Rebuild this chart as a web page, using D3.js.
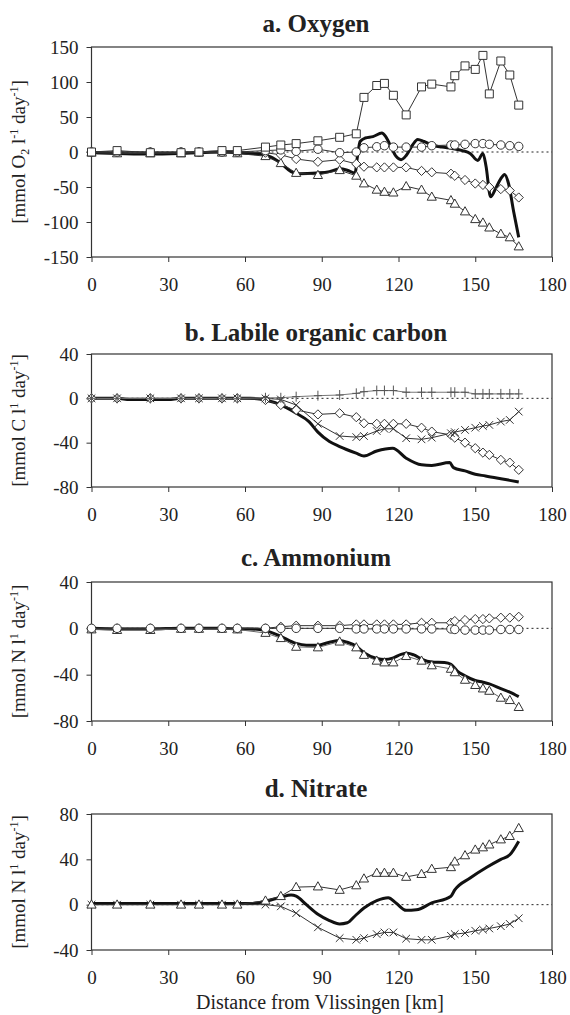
<!DOCTYPE html>
<html>
<head>
<meta charset="utf-8">
<script src="https://cdn.jsdelivr.net/npm/d3@7"></script>
<style>
  body { margin: 0; background: #fff; }
  svg, text { font-family: "Liberation Serif", "Times New Roman", serif; }
  text { fill: #222; }
</style>
</head>
<body>
<div id="chart"></div>
<script>
// stations along the estuary (km from Vlissingen)
var km = [0, 10, 23, 35, 42, 51, 57, 68, 74, 80, 88.5, 97, 103.5, 106.5, 111.5, 114.5, 118, 123, 129, 133, 140.5, 142, 146, 150, 153, 155.5, 160, 163.5, 167];

var xTicks = [0, 30, 60, 90, 120, 150, 180];

// a. oxygen
var oxSquare   = [0, 2, -1, -1, 0, 2, 2, 7, 10, 12, 16, 21, 26, 78, 95, 98, 81, 53, 93, 97, 93, 109, 123, 118, 138, 83, 130, 110, 67];
var oxCircle   = [0, 0, 0, 0, 0, 0, 0, 2, 3, 1, 4, -1, 0, 6, 7.5, 9, 7, 7, 7, 9, 10, 10, 11, 12, 12, 11, 10, 9, 8];
var oxDiamond  = [0, 0, 0, 0, 0, 0, 0, -1, -4, -10, -14, -11, -17, -21, -22, -22, -22, -22, -27, -29, -31, -34, -40, -45, -47, -50, -53, -55, -65];
var oxTriangle = [-1, -2, -2, -2, -1, -1, -2, -6, -16, -30, -33, -26, -34, -45, -54, -57, -58, -49, -54, -64, -69, -74, -85, -96, -101, -108, -117, -122, -135];
var oxLineKm = [0, 10, 23, 35, 42, 51, 57, 62, 66, 70, 74, 78, 81, 88, 93, 97, 100, 103, 104, 105, 107, 110, 113.5, 115, 117, 119, 121, 123, 125.5, 127.5, 130, 133, 137, 141, 145, 148, 151, 153, 154.2, 156, 158, 160, 161.5, 163, 165, 167];
var oxLine   = [-1, -2, -3, -2, -1, 0, -1, -2, -3, -7, -16, -28, -31, -30, -28, -24, -26, -30, -5, 15, 20, 22, 27, 22, 8, -6, -11, -5, 10, 18, 15, 10, 7, 5, 2, -2, -12, -2, -20, -64, -52, -38, -32, -45, -85, -122];
var oxTicks = [-150, -100, -50, 0, 50, 100, 150];

// b. labile organic carbon
var cPlus    = [0, 0, 0, 0, 0, 0, 0, 0.5, 0.5, 1.5, 2.4, 3, 4.5, 6, 7, 7, 7, 5.5, 5.5, 5.5, 5.5, 5.5, 5.5, 4, 4, 4, 4, 4, 4];
var cDiamond = [0, 0, 0, 0, 0, 0, 0, -1.5, -6, -10.5, -14.5, -13.5, -17, -22.5, -23, -23, -23, -23, -26.5, -30, -33, -35.5, -40, -45, -49, -51, -55.5, -58, -64.5];
var cCross   = [0, 0, 0, 0, 0, 0, 0, 0, -1, -6, -23, -34, -35, -34, -29.5, -27.5, -27.5, -36, -37, -35.5, -31.5, -30.5, -28.5, -26.5, -25, -24, -21, -19.5, -12];
var cLineKm = [0, 10, 15, 23, 30, 35, 42, 51, 57, 62, 68, 74, 80, 85, 88.5, 93, 97, 103.5, 106.5, 111.5, 117.7, 123, 129, 133, 140, 141.5, 146, 150, 154, 160, 163.5, 167];
var cLine   = [0, 0, -1, -1, -1, 0, 0, 0, 0, 0, -1.5, -6, -13.5, -21, -30.5, -39, -43.5, -49.5, -52, -47.5, -45, -54, -60, -60.5, -58, -62.5, -65.5, -68.5, -70, -72.5, -74, -75.5];
var cTicks = [-80, -40, 0, 40];

// c. ammonium
var nhDiamond  = [0, 0, 0, 0, 0, 0, 0, 0, 1.4, 2.3, 2.3, 2.3, 3.4, 3.4, 3.4, 3.4, 3.4, 3.4, 4.8, 4.8, 4.8, 6.3, 7.2, 8, 8, 8.6, 9.2, 9.2, 10];
var nhCircle   = [0, 0, 0, 0, 0, 0, 0, 0, 0, 0, 0, 0, -0.5, -0.5, -0.5, -0.5, -0.5, -0.5, -0.5, -0.5, -0.5, -1, -1.5, -1.5, -1.5, -1.5, -1, -1, -1];
var nhTriangle = [-1, -1.5, -1.5, -0.5, -0.5, -0.5, -1, -4, -8.5, -16, -16.5, -11.5, -16.5, -23, -28, -29.5, -29.5, -24, -28, -32, -35, -38, -44.5, -49, -52, -54, -60, -62, -68];
var nhLineKm = [0, 10, 23, 35, 42, 51, 57, 62, 68, 74, 80, 84, 88.5, 93, 97, 100, 103.5, 106.5, 111.5, 114.5, 118, 121, 123.5, 126, 129, 133, 138, 140.5, 143, 146, 150, 153, 155.5, 160, 163.5, 167];
var nhLine   = [0, -0.5, -0.5, 0, 0, 0, -0.5, -0.5, -2, -7, -13, -14.5, -14.5, -12, -10.5, -12, -15.5, -21, -26, -27, -25.5, -22.5, -21.5, -23, -26.5, -29, -29.5, -31, -37, -41, -45, -46.5, -48, -52, -55, -59];
var nhTicks = [-80, -40, 0, 40];

// d. nitrate
var noTriangle = [0, 0, 0, 0, 0, 0, 0, 3.5, 7.5, 15.5, 16, 13, 17, 23, 28, 28, 28, 24.5, 27, 31.5, 33, 38, 43.5, 48.5, 50.5, 53, 57.5, 60.5, 67.5];
var noCross    = [0, 0, 0, 0, 0, 0, 0, 0, -1.5, -7.5, -20, -29.5, -31, -29.5, -26, -24.5, -24.5, -30, -31, -31, -27.5, -26, -25, -23, -22, -21, -19, -17, -12];
var noLineKm = [0, 10, 23, 35, 42, 51, 57, 62, 68, 74, 78, 80, 84, 88.5, 93, 97, 100, 103, 106.5, 111.5, 116, 119, 123, 127, 133, 140.5, 142, 148, 154.5, 160, 163.5, 167];
var noLine   = [1, 1, 1, 1, 1, 1, 1, 1, 3, 6.5, 8.5, 7.5, 0, -8.5, -14, -17, -16, -10, -3, 3.5, 6, 1.5, -5, -4.5, 1.5, 7.5, 13, 23.5, 33, 40, 44, 56];
var noTicks = [-40, 0, 40, 80];

var width = 570, height = 1015;
var left = 91.5, right = 552;
var serif = "'Liberation Serif', 'Times New Roman', serif";

var marks = {
  square: "M-4,-4H4V4H-4Z",
  triangle: "M0,-4.8L4.6,3.4H-4.6Z",
  diamond: "M0,-4.6L4.6,0L0,4.6L-4.6,0Z",
  cross: "M-3.8,-3.8L3.8,3.8M3.8,-3.8L-3.8,3.8",
  plus: "M0,-5V5M-4,0H4",
  circle: d3.symbol(d3.symbolCircle, 56)()
};

var panels = [
  { title: "a. Oxygen", top: 47, bottom: 257, dom: [-150, 150], ticks: oxTicks, titleY: 23,
    label: [["[mmol O", ""], ["2", "sub"], [" l", ""], ["-1", "sup"], [" day", ""], ["-1", "sup"], ["]", ""]],
    line: [oxLineKm, oxLine],
    series: [["triangle", oxTriangle, "#333"], ["diamond", oxDiamond, "#333"], ["circle", oxCircle, "#333"], ["square", oxSquare, "#333"]] },
  { title: "b. Labile organic carbon", top: 354, bottom: 487, dom: [-80, 40], ticks: cTicks, titleY: 332,
    label: [["[mmol C l", ""], ["1", "sup"], [" day", ""], ["-1", "sup"], ["]", ""]],
    line: [cLineKm, cLine],
    series: [["diamond", cDiamond, "#333"], ["cross", cCross, "#333"], ["plus", cPlus, "#777"]] },
  { title: "c. Ammonium", top: 582, bottom: 721, dom: [-80, 40], ticks: nhTicks, titleY: 557,
    label: [["[mmol N l", ""], ["1", "sup"], [" day", ""], ["-1", "sup"], ["]", ""]],
    line: [nhLineKm, nhLine],
    series: [["triangle", nhTriangle, "#666"], ["diamond", nhDiamond, "#333"], ["circle", nhCircle, "#333"]] },
  { title: "d. Nitrate", top: 814, bottom: 950, dom: [-40, 80], ticks: noTicks, titleY: 788,
    label: [["[mmol N l", ""], ["1", "sup"], [" day", ""], ["-1", "sup"], ["]", ""]],
    line: [noLineKm, noLine],
    series: [["cross", noCross, "#333"], ["triangle", noTriangle, "#333"]] }
];

var svg = d3.select("#chart").append("svg")
  .attr("width", width)
  .attr("height", height)
  .style("background", "#fff")
  .style("font-family", serif);

var x = d3.scaleLinear().domain([0, 180]).range([left, right]);

panels.forEach(function(p) {
  var y = d3.scaleLinear().domain(p.dom).range([p.bottom, p.top]);
  var g = svg.append("g");

  g.append("text")
    .attr("x", 316).attr("y", p.titleY).attr("dy", "0.35em")
    .attr("text-anchor", "middle")
    .style("font-family", serif)
    .style("font-size", "25px").style("font-weight", "bold")
    .text(p.title);

  // y label with sub/superscripts
  var lab = g.append("text")
    .attr("transform", "translate(25," + ((p.top + p.bottom) / 2) + ") rotate(-90)")
    .attr("dy", "0.35em")
    .attr("text-anchor", "middle")
    .style("font-family", serif)
    .style("font-size", "19px");
  var shift = 0;
  p.label.forEach(function(part) {
    var want = part[1] === "sup" ? -7 : part[1] === "sub" ? 4 : 0;
    lab.append("tspan")
      .attr("dy", want - shift)
      .style("font-size", part[1] ? "12px" : "19px")
      .text(part[0]);
    shift = want;
  });

  // zero line
  g.append("line")
    .attr("x1", x(0)).attr("x2", x(180))
    .attr("y1", y(0)).attr("y2", y(0))
    .attr("stroke", "#222").attr("stroke-width", 1)
    .attr("stroke-dasharray", "2,3");

  // axes
  var ya = g.append("g").attr("transform", "translate(" + left + ",0)")
    .call(d3.axisLeft(y).tickValues(p.ticks).tickSize(5).tickPadding(8).tickFormat(function(d) { return String(d); }));
  var xa = g.append("g").attr("transform", "translate(0," + p.bottom + ")")
    .call(d3.axisBottom(x).tickValues(xTicks).tickSize(5).tickPadding(16).tickFormat(function(d) { return String(d); }));
  [ya, xa].forEach(function(a) {
    a.attr("font-family", null);
    a.select(".domain").remove();
    a.selectAll("line").attr("stroke", "#333");
    a.selectAll("text").style("font-size", "19px").style("font-family", serif).attr("fill", "#222");
  });

  g.append("rect")
    .attr("x", left).attr("y", p.top)
    .attr("width", right - left).attr("height", p.bottom - p.top)
    .attr("fill", "none").attr("stroke", "#333").attr("stroke-width", 1.2);

  // thick model line
  var thick = p.line[0].map(function(k, i) { return [k, p.line[1][i]]; });
  g.append("path")
    .datum(thick)
    .attr("fill", "none").attr("stroke", "#111").attr("stroke-width", 3)
    .attr("stroke-linejoin", "round")
    .attr("d", d3.line().x(function(d) { return x(d[0]); }).y(function(d) { return y(d[1]); }).curve(d3.curveMonotoneX));

  // series with markers
  p.series.forEach(function(s) {
    var pts = km.map(function(k, i) { return [k, s[1][i]]; });
    g.append("path")
      .datum(pts)
      .attr("fill", "none").attr("stroke", s[2]).attr("stroke-width", 1)
      .attr("d", d3.line().x(function(d) { return x(d[0]); }).y(function(d) { return y(d[1]); }));
  });
  p.series.forEach(function(s) {
    var pts = km.map(function(k, i) { return [k, s[1][i]]; });
    var open = s[0] === "cross" || s[0] === "plus";
    g.append("g").selectAll("path")
      .data(pts)
      .join("path")
      .attr("transform", function(d) { return "translate(" + x(d[0]) + "," + y(d[1]) + ")"; })
      .attr("d", marks[s[0]])
      .attr("fill", open ? "none" : "#fff")
      .attr("stroke", s[2] === "#777" ? "#555" : "#333")
      .attr("stroke-width", 1);
  });
});

svg.append("text")
  .attr("x", 320).attr("y", 1002).attr("dy", "0.35em")
  .attr("text-anchor", "middle")
  .style("font-family", serif)
  .style("font-size", "20px")
  .text("Distance from Vlissingen [km]");
</script>
</body>
</html>
